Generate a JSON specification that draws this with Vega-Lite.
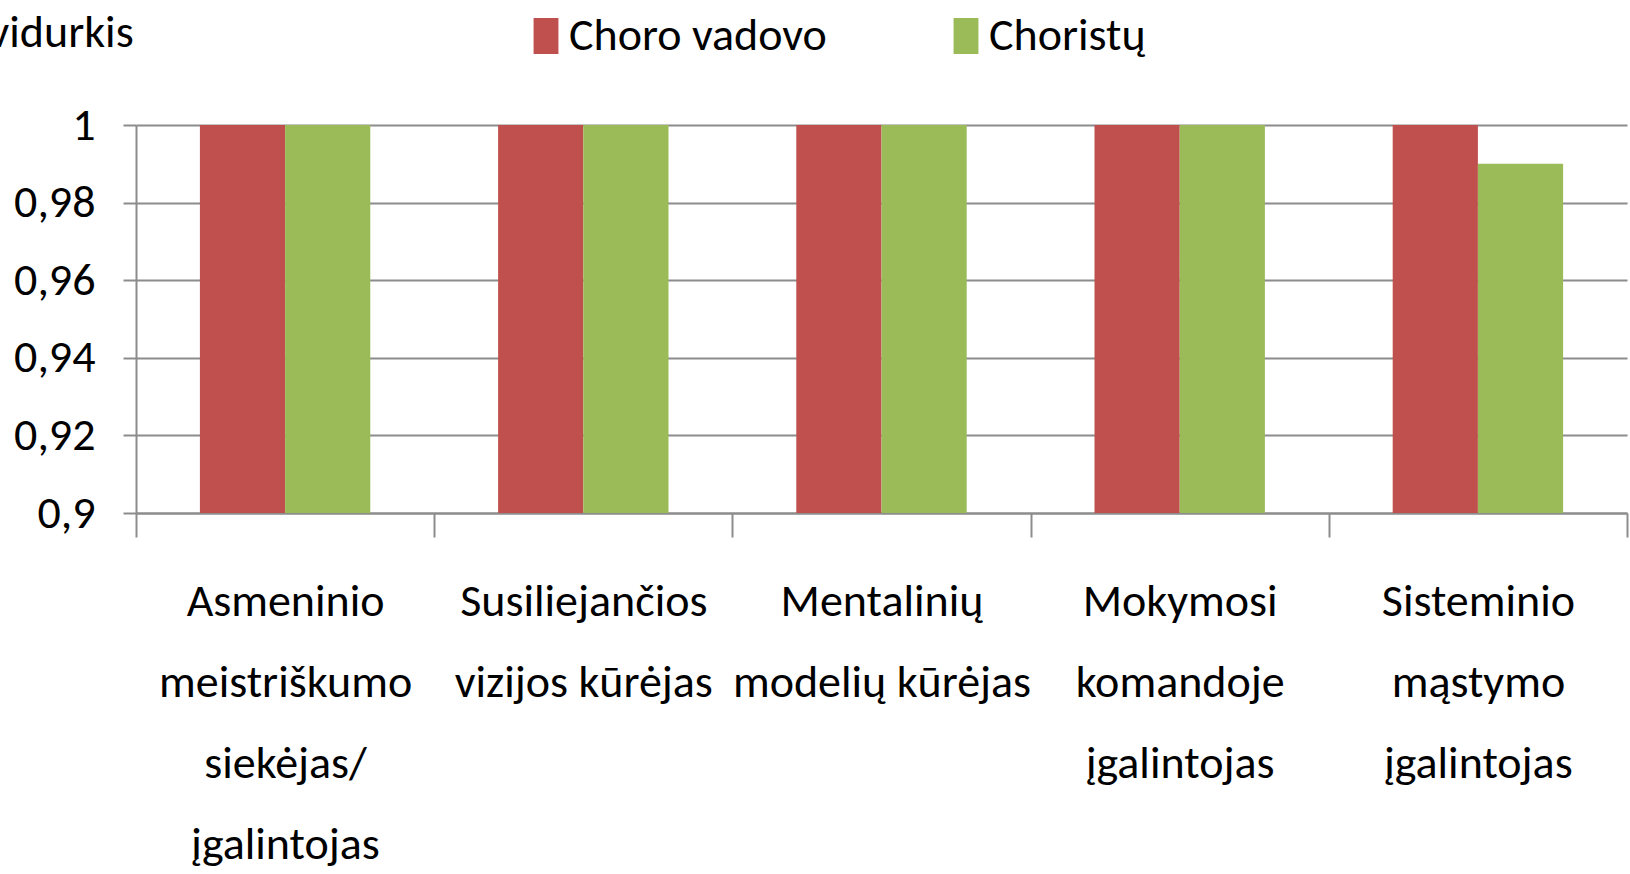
{
  "$schema": "https://vega.github.io/schema/vega-lite/v6.json",
  "autosize": {"type": "none"},
  "width": 1491,
  "height": 388,
  "padding": {"left": 136, "top": 125, "right": 3, "bottom": 361},
  "background": "white",
  "data": {
    "values": [
      {"kategorija": "Asmeninio\nmeistriškumo\nsiekėjas/\nįgalintojas", "grupe": "Choro vadovo", "vidurkis": 1},
      {"kategorija": "Asmeninio\nmeistriškumo\nsiekėjas/\nįgalintojas", "grupe": "Choristų", "vidurkis": 1},
      {"kategorija": "Susiliejančios\nvizijos kūrėjas", "grupe": "Choro vadovo", "vidurkis": 1},
      {"kategorija": "Susiliejančios\nvizijos kūrėjas", "grupe": "Choristų", "vidurkis": 1},
      {"kategorija": "Mentalinių\nmodelių kūrėjas", "grupe": "Choro vadovo", "vidurkis": 1},
      {"kategorija": "Mentalinių\nmodelių kūrėjas", "grupe": "Choristų", "vidurkis": 1},
      {"kategorija": "Mokymosi\nkomandoje\nįgalintojas", "grupe": "Choro vadovo", "vidurkis": 1},
      {"kategorija": "Mokymosi\nkomandoje\nįgalintojas", "grupe": "Choristų", "vidurkis": 1},
      {"kategorija": "Sisteminio\nmąstymo\nįgalintojas", "grupe": "Choro vadovo", "vidurkis": 1},
      {"kategorija": "Sisteminio\nmąstymo\nįgalintojas", "grupe": "Choristų", "vidurkis": 0.99}
    ]
  },
  "mark": {"type": "bar", "clip": true},
  "encoding": {
    "x": {
      "field": "kategorija",
      "type": "nominal",
      "sort": null,
      "scale": {"paddingInner": 0, "paddingOuter": 0},
      "axis": {
        "title": null,
        "labelAngle": 0,
        "labelExpr": "split(datum.label, '\\n')",
        "labelFont": "Carlito, Liberation Sans Narrow, DejaVu Sans Condensed, sans-serif",
        "labelFontSize": 46,
        "labelLineHeight": 81,
        "labelColor": "#000000",
        "labelLimit": 0,
        "labelPadding": 42,
        "labelBaseline": "top",
        "tickBand": "extent",
        "tickSize": 24,
        "tickWidth": 2,
        "tickColor": "#8c8c8c",
        "domainColor": "#8c8c8c",
        "domainWidth": 2,
        "grid": false
      }
    },
    "xOffset": {
      "field": "grupe",
      "type": "nominal",
      "sort": ["Choro vadovo", "Choristų"],
      "scale": {"paddingInner": 0, "paddingOuter": 0.75}
    },
    "y": {
      "field": "vidurkis",
      "type": "quantitative",
      "scale": {"domain": [0.9, 1], "zero": false, "nice": false},
      "axis": {
        "title": "vidurkis",
        "titleAngle": 0,
        "titleAlign": "left",
        "titleBaseline": "alphabetic",
        "titleX": -148,
        "titleY": -79,
        "titleFont": "Carlito, Liberation Sans Narrow, DejaVu Sans Condensed, sans-serif",
        "titleFontSize": 46,
        "titleFontWeight": "normal",
        "titleColor": "#000000",
        "values": [0.9, 0.92, 0.94, 0.96, 0.98, 1],
        "labelExpr": "replace(format(datum.value, '~g'), '.', ',')",
        "labelFont": "Carlito, Liberation Sans Narrow, DejaVu Sans Condensed, sans-serif",
        "labelFontSize": 46,
        "labelColor": "#000000",
        "labelPadding": 28,
        "tickSize": 13,
        "tickWidth": 2,
        "tickColor": "#8c8c8c",
        "domainColor": "#8c8c8c",
        "domainWidth": 2,
        "grid": true,
        "gridColor": "#8c8c8c",
        "gridWidth": 2
      }
    },
    "color": {
      "field": "grupe",
      "type": "nominal",
      "sort": ["Choro vadovo", "Choristų"],
      "scale": {"domain": ["Choro vadovo", "Choristų"], "range": ["#C0504D", "#9BBB59"]},
      "legend": {
        "title": null,
        "orient": "none",
        "direction": "horizontal",
        "legendX": 387,
        "legendY": -112,
        "padding": 0,
        "symbolType": "M-0.69,-1H0.69V1H-0.69Z",
        "symbolSize": 1296,
        "symbolStrokeWidth": 0,
        "labelFont": "Carlito, Liberation Sans Narrow, DejaVu Sans Condensed, sans-serif",
        "labelFontSize": 46,
        "labelColor": "#000000",
        "labelOffset": 0,
        "labelLimit": 0,
        "columnPadding": 116
      }
    }
  },
  "config": {
    "view": {"stroke": null},
    "axis": {"zindex": 0}
  }
}
